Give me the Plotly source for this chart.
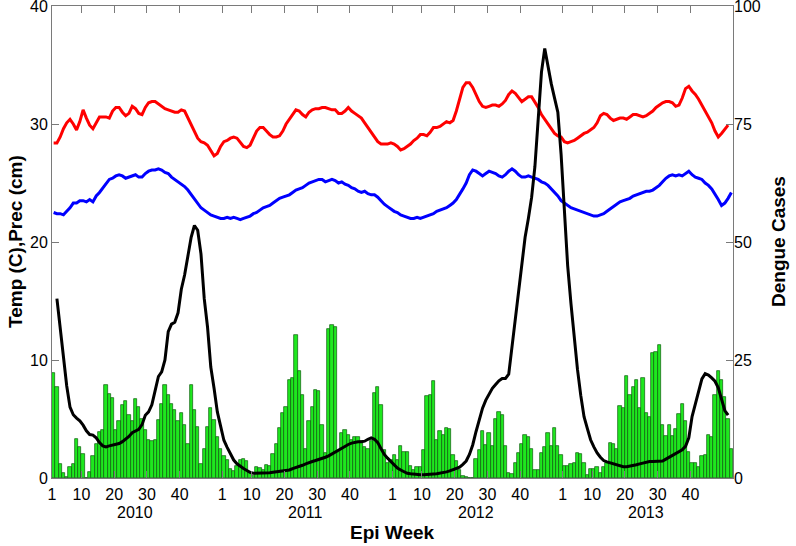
import plotly.graph_objects as go

# ---------------- data ----------------
years = [2010, 2011, 2012, 2013]
weeks_per_year = 52
tick_weeks = [1, 10, 20, 30, 40]

# weekly precipitation (cm), left axis, green bars
prec_cm = [
    8.9, 7.7, 1.2, 0.4, 0.1, 0.9, 1.2, 3.3, 2.6, 2.0, 0.0, 0.5, 1.9, 2.85, 3.9, 4.1, 7.9, 7.1, 6.75, 4.1,
    4.8, 6.2, 6.5, 5.3, 4.8, 6.7, 6.0, 5.0, 4.1, 3.2, 3.1, 3.2, 4.9, 6.3, 7.9, 7.0, 6.3, 5.8, 4.8, 5.5,
    4.5, 2.9, 7.9, 5.8, 4.35, 1.2, 2.5, 4.35, 5.9, 4.9, 3.5, 2.5,
    1.9, 1.5, 0.8, 0.6, 1.0, 1.5, 1.6, 1.4, 0.5, 0.2, 0.9, 0.85, 0.7, 1.1, 1.0, 2.0, 2.9, 4.2, 5.5, 6.0,
    8.3, 8.5, 12.1, 9.1, 7.0, 2.5, 4.8, 6.0, 7.5, 7.4, 4.5, 2.1, 12.6, 13.0, 12.8, 2.2, 3.85, 4.1, 3.65, 3.2,
    3.45, 3.5, 3.1, 2.65, 2.5, 3.1, 7.2, 7.7, 6.2, 2.4, 1.25, 1.5,
    1.95, 1.5, 2.7, 2.2, 2.2, 1.0, 0.7, 0.95, 0.95, 2.4, 6.95, 7.05, 8.25, 3.2, 4.0, 3.65, 4.2, 4.15, 1.95, 1.4,
    0.7, 0.15, 0.05, 0.0, 0.0, 1.6, 2.4, 4.0, 2.8, 3.8, 2.75, 5.0, 5.6, 5.35, 2.75, 0.4, 0.3, 1.3, 2.1, 2.9,
    3.65, 3.5, 2.45, 0.7, 0.7, 2.1, 2.65, 3.8, 2.75, 4.2, 2.75, 1.95,
    1.05, 1.05, 1.15, 1.25, 2.1, 2.0, 1.25, 0.25, 0.8, 0.8, 0.95, 0.4, 0.95, 1.25, 2.95, 2.9, 2.45, 6.1, 5.95, 8.65,
    7.05, 7.7, 8.3, 5.9, 8.5, 5.5, 5.2, 10.6, 10.7, 11.3, 4.45, 3.55, 4.5, 3.55, 4.15, 5.4, 6.3, 4.8, 2.2, 1.3,
    1.25, 0.95, 1.85, 1.95, 3.65, 3.45, 7.05, 9.05, 8.3, 6.85, 5.0, 2.5,
]

# maximum temperature (C), left axis, red line
temp_max = [
    28.4, 28.4, 28.9, 29.6, 30.1, 30.4, 30.0, 29.5, 30.2, 31.2, 30.5, 29.9, 29.6, 30.1, 30.6, 30.6, 30.6, 30.5, 31.1, 31.4,
    31.4, 31.0, 30.7, 30.9, 31.5, 31.3, 30.9, 30.8, 31.4, 31.8, 31.9, 31.9, 31.7, 31.5, 31.3, 31.2, 31.1, 31.0, 31.0, 31.2,
    31.1, 30.5, 29.9, 29.4, 28.8, 28.5, 28.4, 28.2, 27.7, 27.3, 27.5, 28.1,
    28.5, 28.6, 28.8, 28.9, 28.8, 28.4, 28.1, 28.0, 28.2, 28.8, 29.4, 29.7, 29.7, 29.4, 29.1, 28.9, 28.9, 29.0, 29.4, 30.0,
    30.4, 30.8, 31.2, 31.1, 30.8, 30.6, 31.0, 31.2, 31.3, 31.3, 31.4, 31.4, 31.3, 31.2, 31.2, 30.9, 30.9, 31.1, 31.4, 31.1,
    30.9, 30.7, 30.5, 30.1, 29.7, 29.3, 28.8, 28.5, 28.3, 28.3, 28.3, 28.4,
    28.3, 28.1, 27.8, 27.9, 28.1, 28.3, 28.6, 28.8, 29.1, 29.1, 29.0, 29.3, 29.7, 29.7, 29.8, 30.0, 30.2, 30.1, 30.3, 31.1,
    32.2, 33.1, 33.5, 33.5, 33.1, 32.5, 31.9, 31.5, 31.4, 31.5, 31.6, 31.6, 31.5, 31.7, 32.0, 32.5, 32.8, 32.6, 32.2, 31.9,
    32.1, 32.3, 32.3, 31.9, 31.4, 30.8, 30.4, 30.0, 29.6, 29.2, 29.0, 28.9,
    28.5, 28.4, 28.5, 28.6, 28.8, 29.0, 29.2, 29.3, 29.5, 29.7, 30.1, 30.7, 30.9, 30.8, 30.5, 30.3, 30.4, 30.5, 30.5, 30.4,
    30.6, 30.8, 30.8, 30.7, 30.6, 30.7, 30.9, 31.1, 31.4, 31.6, 31.8, 31.9, 31.9, 31.8, 31.5, 31.6, 32.2, 33.0, 33.2, 32.8,
    32.5, 32.1, 31.6, 31.1, 30.5, 30.1, 29.4, 28.9, 29.2, 29.6, 29.9, None,
]

# minimum temperature (C), left axis, blue line
temp_min = [
    22.5, 22.4, 22.4, 22.3, 22.6, 22.9, 23.3, 23.3, 23.5, 23.5, 23.4, 23.6, 23.4, 23.9, 24.2, 24.6, 25.0, 25.3, 25.4, 25.6,
    25.7, 25.6, 25.4, 25.5, 25.6, 25.7, 25.5, 25.5, 25.8, 26.0, 26.1, 26.1, 26.2, 26.1, 25.9, 25.8, 25.5, 25.3, 25.1, 24.9,
    24.7, 24.4, 24.0, 23.6, 23.2, 22.9, 22.7, 22.5, 22.3, 22.2, 22.1, 22.0,
    22.0, 22.1, 22.0, 22.1, 22.0, 21.9, 22.0, 22.1, 22.2, 22.4, 22.5, 22.7, 22.9, 23.0, 23.1, 23.3, 23.5, 23.7, 23.8, 23.9,
    24.0, 24.2, 24.4, 24.5, 24.6, 24.8, 25.0, 25.1, 25.2, 25.3, 25.3, 25.1, 25.2, 25.3, 25.2, 25.0, 25.1, 24.9, 24.8, 24.6,
    24.5, 24.3, 24.2, 24.3, 24.1, 24.0, 24.0, 23.8, 23.5, 23.2, 23.0, 22.8,
    22.6, 22.5, 22.3, 22.2, 22.1, 22.0, 22.0, 22.1, 22.0, 22.1, 22.2, 22.3, 22.4, 22.6, 22.7, 22.8, 22.9, 23.1, 23.3, 23.6,
    24.0, 24.5, 25.0, 25.7, 26.1, 26.0, 25.8, 25.6, 25.8, 26.0, 25.9, 25.8, 25.6, 25.5, 25.7, 26.0, 26.2, 26.0, 25.7, 25.5,
    25.5, 25.6, 25.5, 25.4, 25.3, 25.1, 25.0, 24.8, 24.5, 24.2, 23.9, 23.5,
    23.3, 23.1, 22.9, 22.8, 22.7, 22.6, 22.5, 22.4, 22.3, 22.2, 22.2, 22.3, 22.4, 22.6, 22.8, 23.0, 23.2, 23.4, 23.5, 23.6,
    23.7, 23.9, 24.0, 24.1, 24.2, 24.3, 24.3, 24.4, 24.6, 24.8, 25.1, 25.4, 25.6, 25.7, 25.6, 25.7, 25.6, 25.8, 26.0, 25.7,
    25.5, 25.4, 25.3, 25.0, 24.8, 24.5, 24.1, 23.6, 23.1, 23.3, 23.7, 24.2,
]

# weekly dengue cases, right axis, black line
dengue_cases = [
    None, 38, 32, 25.5, 19.5, 15, 13.4, 12.7, 12.1, 11.2, 10, 9.2, 9.1, 8.5, 7.5, 6.8, 6.6, 6.8, 7.0, 7.1,
    7.3, 7.7, 8.2, 8.8, 9.6, 10.0, 10.3, 11.3, 13.3, 14.0, 15.5, 18.5, 21.5, 22.5, 25, 31, 32.6, 33, 35, 40,
    43, 47, 51, 53.5, 52.5, 47.5, 38, 32, 23.5, 19, 14, 11,
    8, 6.5, 5, 3.8, 3.0, 2.4, 2.0, 1.6, 1.2, 1.0, 1.0, 1.0, 1.0, 1.1, 1.1, 1.2, 1.3, 1.3, 1.4, 1.5,
    1.7, 2.0, 2.2, 2.4, 2.7, 3.0, 3.3, 3.5, 3.7, 3.9, 4.2, 4.4, 4.7, 5.1, 5.6, 6.0, 6.4, 6.8, 7.1, 7.4,
    7.6, 7.7, 7.7, 7.8, 8.2, 8.5, 8.2, 7.5, 6.2, 5.0, 4.2, 3.5,
    2.7, 2.1, 1.7, 1.3, 1.0, 0.9, 0.8, 0.75, 0.7, 0.7, 0.7, 0.8, 0.85, 0.9, 1.0, 1.1, 1.3, 1.5, 1.8, 2.0,
    2.3, 2.9, 3.6, 5.0, 7.0, 9.8, 12.5, 14.8, 16.5, 17.8, 19.0, 19.8, 20.6, 21.1, 21.1, 22, 28, 34, 40, 46,
    51, 55, 59.5, 66, 75, 86, 91, 87, 83.5, 80.5, 77.5, 68.5,
    56, 45, 37, 29.5, 23, 17.5, 13, 10.5, 8.1, 6.6, 5.3, 4.4, 3.7, 3.4, 3.2, 3.0, 2.8, 2.6, 2.4, 2.4,
    2.5, 2.6, 2.8, 3.0, 3.2, 3.4, 3.5, 3.5, 3.5, 3.6, 3.6, 4.0, 4.4, 4.7, 5.2, 5.6, 6.0, 6.7, 8.5, 13,
    15.8, 18, 21, 22.1, 21.8, 21.2, 20.5, 19.1, 16.8, 14.3, 13.3, None,
]

left_ticks = [0, 10, 20, 30, 40]
right_ticks = [0, 25, 50, 75, 100]

# ---------------- figure ----------------
FONT = "Liberation Sans, Arial, Helvetica, sans-serif"
n_weeks = len(prec_cm)
x = [i + 0.5 for i in range(n_weeks)]

tickvals, ticktext = [], []
for yi, _ in enumerate(years):
    for w in tick_weeks:
        tickvals.append(yi * weeks_per_year + (w - 1))
        ticktext.append(str(w))

fig = go.Figure()
fig.add_trace(go.Bar(
    x=x, y=prec_cm, width=1.0,
    marker=dict(color="#1ee81e", line=dict(color="#0d5a0d", width=0.7)),
    showlegend=False,
))
fig.add_trace(go.Scatter(x=x, y=temp_max, mode="lines",
                         line=dict(color="#ff0000", width=3), showlegend=False))
fig.add_trace(go.Scatter(x=x, y=temp_min, mode="lines",
                         line=dict(color="#0000ff", width=3), showlegend=False))
fig.add_trace(go.Scatter(x=x, y=dengue_cases, mode="lines", yaxis="y2",
                         line=dict(color="#000000", width=3), showlegend=False))

axis_col = "#7a7a7a"
fig.update_layout(
    width=796, height=546,
    margin=dict(l=52, r=63, t=6, b=68, autoexpand=False),
    paper_bgcolor="white", plot_bgcolor="white",
    bargap=0,
    font=dict(family=FONT, size=16, color="black"),
    xaxis=dict(
        range=[0, n_weeks], tickmode="array", tickvals=tickvals, ticktext=ticktext,
        ticks="inside", ticklen=7, tickcolor=axis_col, tickwidth=1,
        showline=True, linecolor=axis_col, linewidth=1, mirror="ticks",
        showgrid=False, zeroline=False, tickfont=dict(size=16),
        automargin=False, ticklabelstandoff=2,
    ),
    yaxis=dict(
        range=[0, 40], tickmode="array", tickvals=left_ticks,
        ticks="inside", ticklen=7, tickcolor=axis_col, tickwidth=1,
        showline=True, linecolor=axis_col, linewidth=1, mirror="ticks",
        showgrid=False, zeroline=False, tickfont=dict(size=16),
        automargin=False, ticklabeloverflow="allow",
    ),
    yaxis2=dict(
        range=[0, 100], tickmode="array", tickvals=right_ticks,
        overlaying="y", side="right", ticks="", showline=False,
        showgrid=False, zeroline=False, tickfont=dict(size=16),
        automargin=False, ticklabeloverflow="allow",
    ),
)

annotations = []
for yi, yr in enumerate(years):
    annotations.append(dict(
        x=yi * weeks_per_year + 25.5, xref="x", y=0, yref="paper",
        xanchor="center", yanchor="top", yshift=-24, text=str(yr), showarrow=False,
        font=dict(size=16, family=FONT, color="black"),
    ))
annotations.append(dict(
    x=0.5, xref="paper", y=0, yref="paper", xanchor="center", yanchor="top", yshift=-42,
    text="<b>Epi Week</b>", showarrow=False,
    font=dict(size=19, family=FONT, color="black"),
))
annotations.append(dict(
    x=0, xref="paper", xshift=-37, y=0.5, yref="paper", xanchor="center", yanchor="middle",
    text="<b>Temp (C),Prec (cm)</b>", textangle=-90, showarrow=False,
    font=dict(size=19, family=FONT, color="black"),
))
annotations.append(dict(
    x=1, xref="paper", xshift=45, y=0.5, yref="paper", xanchor="center", yanchor="middle",
    text="<b>Dengue Cases</b>", textangle=-90, showarrow=False,
    font=dict(size=19, family=FONT, color="black"),
))
fig.update_layout(annotations=annotations)

# remove the default 8px page margin so the figure sits at the window origin
fig.write_html(
    "out.html",
    config={"displayModeBar": False},
    post_script="document.body.style.margin='0px';document.body.style.overflow='hidden';",
)
